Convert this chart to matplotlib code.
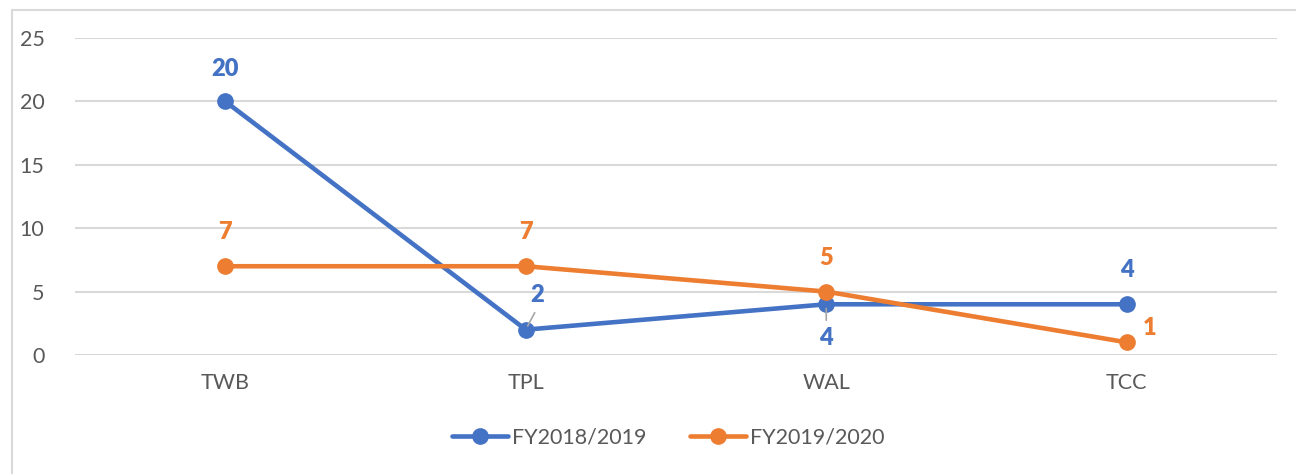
import matplotlib.pyplot as plt
from matplotlib.patches import Rectangle

plt.rcParams['font.family'] = ['Lato', 'DejaVu Sans']

categories = ['TWB', 'TPL', 'WAL', 'TCC']
fy1819 = [20, 2, 4, 4]
fy1920 = [7, 7, 5, 1]

# label offsets in pixels (dx, dy) for each point
off1819 = [(0, 32), (11, 35), (0, -34), (0, 34)]
off1920 = [(0, 34), (0, 34), (0, 34), (23, 14)]

blue = '#4472C4'
orange = '#ED7D31'
grey_txt = '#595959'

fig = plt.figure(figsize=(12.96, 4.74), dpi=100)
ax = fig.add_axes([75/1296, 1-355/474, (1277-75)/1296, (355-38)/474])

x = range(len(categories))
ax.plot(x, fy1819, color=blue, lw=3.3, marker='o', ms=11, label='FY2018/2019',
        solid_capstyle='round', zorder=3)
ax.plot(x, fy1920, color=orange, lw=3.3, marker='o', ms=11, label='FY2019/2020',
        solid_capstyle='round', zorder=3)

for i, v in enumerate(fy1819):
    dx, dy = off1819[i]
    ax.annotate(str(v), (i, v), xytext=(dx, dy), textcoords='offset pixels',
                ha='center', va='center', color=blue, fontsize=17, fontweight='heavy')
for i, v in enumerate(fy1920):
    dx, dy = off1920[i]
    ax.annotate(str(v), (i, v), xytext=(dx, dy), textcoords='offset pixels',
                ha='center', va='center', color=orange, fontsize=17, fontweight='heavy')

# small leader lines
ax.annotate('', (1, 2), xytext=(9, 17), textcoords='offset pixels',
            arrowprops=dict(arrowstyle='-', color='#A6A6A6', lw=1.2, shrinkA=0, shrinkB=3))
ax.annotate('', (2, 4), xytext=(0, -16), textcoords='offset pixels',
            arrowprops=dict(arrowstyle='-', color='#A6A6A6', lw=1.2, shrinkA=0, shrinkB=3))

ax.set_xlim(-0.5, 3.5)
ax.set_ylim(0, 25)
ax.set_yticks([0, 5, 10, 15, 20, 25])
ax.set_xticks(list(x))
ax.set_xticklabels(categories)
ax.grid(axis='y', color='#D9D9D9', lw=1.5, zorder=0)
ax.set_axisbelow(True)
for s in ax.spines.values():
    s.set_visible(False)
ax.tick_params(length=0, labelsize=15.5, colors=grey_txt)
ax.tick_params(axis='y', pad=22)
ax.tick_params(axis='x', pad=13)

leg = fig.legend(loc='center', bbox_to_anchor=(668/1296, 1-438/474), ncol=2, frameon=False,
                 fontsize=15.5, handlelength=2.6, columnspacing=2.0, handletextpad=0.2)
for t in leg.get_texts():
    t.set_color(grey_txt)

fig.patches.append(Rectangle((12/1296, -0.1), 1.2, 1-10/474+0.1, transform=fig.transFigure,
                             fill=False, edgecolor='#D9D9D9', lw=1.5))

fig.savefig('out.png', dpi=100)
